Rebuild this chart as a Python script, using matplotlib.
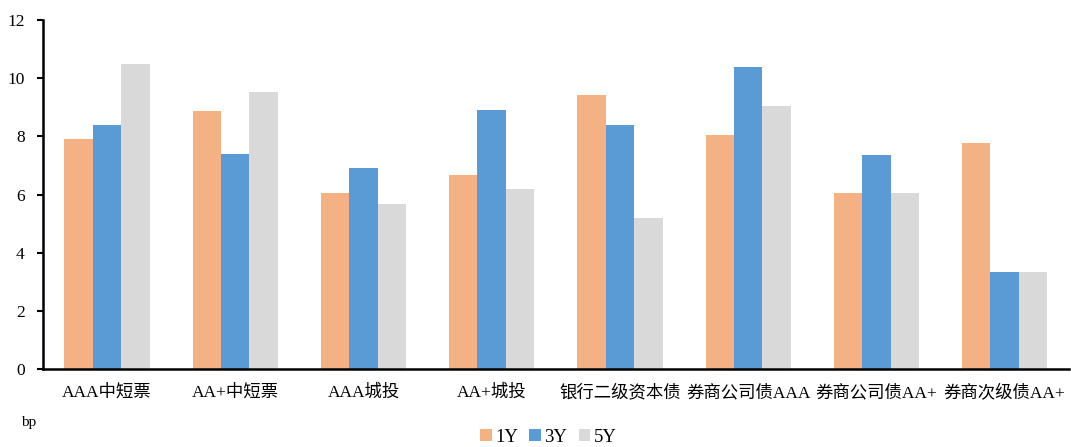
import matplotlib
matplotlib.use("Agg")
import matplotlib.pyplot as plt
import numpy as np

categories = ["AAA中短票", "AA+中短票", "AAA城投", "AA+城投", "银行二级资本债",
              "券商公司债AAA", "券商公司债AA+", "券商次级债AA+"]
series_names = ["1Y", "3Y", "5Y"]
v1y = [7.91, 8.87, 6.05, 6.67, 9.42, 8.05, 6.05, 7.77]
v3y = [8.39, 7.39, 6.91, 8.90, 8.39, 10.38, 7.36, 3.34]
v5y = [10.49, 9.52, 5.67, 6.19, 5.19, 9.04, 6.05, 3.34]
yticks = [0, 2, 4, 6, 8, 10, 12]

colors = ["#F4B183", "#5B9BD5", "#D9D9D9"]
fam = ["Liberation Serif", "Noto Sans CJK SC", "DejaVu Sans"]
plt.rcParams['font.family'] = fam

fig = plt.figure(figsize=(10.71, 4.47), dpi=100)
ax = fig.add_axes([0.040, 0.1745, 0.958, 0.7805])

x = np.arange(len(categories))
w = 0.222
for i, (vals, name) in enumerate(zip([v1y, v3y, v5y], series_names)):
    ax.bar(x + (i - 1) * w, vals, width=w, color=colors[i], label=name, zorder=2)

ax.set_xlim(-0.5, len(categories) - 0.5)
ax.set_ylim(0, 12)
ax.set_yticks(yticks)
ax.set_yticklabels([str(t) for t in yticks], fontsize=12.5)
ax.set_xticks(x)
ax.set_xticklabels(categories, fontsize=12.5)
ax.tick_params(axis='x', length=0, pad=11)
ax.tick_params(axis='y', length=4, width=1.5, direction='out', pad=9)
for s in ['top', 'right']:
    ax.spines[s].set_visible(False)
ax.spines['left'].set_linewidth(1.8)
ax.spines['bottom'].set_linewidth(1.8)

fig.text(0.020, 0.055, "bp", fontsize=11, ha='left', va='center')

leg = fig.legend(loc='lower center', bbox_to_anchor=(0.512, -0.035), ncol=3,
                 frameon=False, fontsize=13.5, handlelength=0.6, handleheight=0.6,
                 handletextpad=0.2, columnspacing=0.6)

fig.savefig("out.png", dpi=100)
